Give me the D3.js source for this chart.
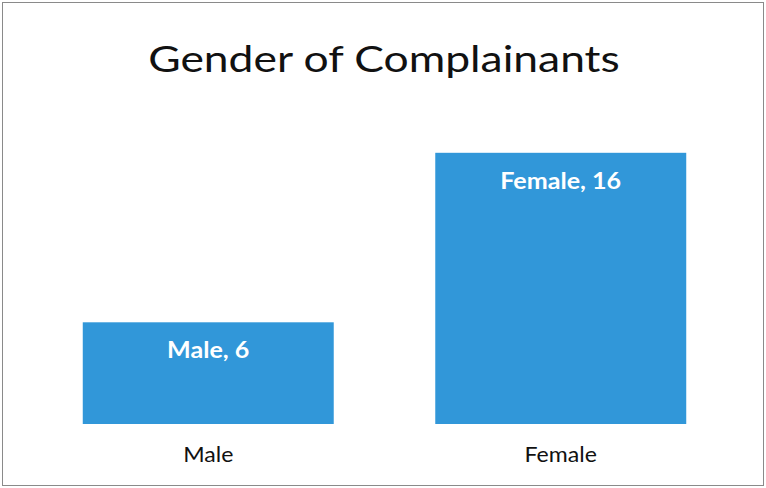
<!DOCTYPE html>
<html>
<head>
<meta charset="utf-8">
<script src="https://cdn.jsdelivr.net/npm/d3@7"></script>
<style>
  html, body { margin: 0; padding: 0; background: #fff; }
  svg { display: block; }
</style>
</head>
<body>
<div id="chart"></div>
<script>
// data
const categories = ["Male", "Female"]
const values = [6, 16]
const title = "Gender of Complainants"

const W = 766, H = 488
const font = "Lato, 'Open Sans', sans-serif"

const svg = d3.select("#chart").append("svg")
    .attr("width", W)
    .attr("height", H)

// elargir un texte (le scan est un peu etire en largeur)
function stretch(sel, k) {
    sel.each(function () {
        const w = this.getComputedTextLength()
        d3.select(this).attr("textLength", w * k).attr("lengthAdjust", "spacingAndGlyphs")
    })
}

// cadre
svg.append("rect")
    .attr("x", 2.5).attr("y", 2.5)
    .attr("width", W - 5).attr("height", H - 5)
    .attr("fill", "#fff")
    .attr("stroke", "#8a8a8a")
    .attr("stroke-width", 1)

// echelles
const x = d3.scaleBand()
    .domain(categories)
    .range([32, 737])
    .paddingInner(0.288)
    .paddingOuter(0.144)

const y = d3.scaleLinear()
    .domain([0, 20])
    .range([424, 85])

// titre
svg.append("text")
    .attr("x", 384)
    .attr("y", 72)
    .attr("text-anchor", "middle")
    .style("font-family", font)
    .style("font-size", "37px")
    .attr("fill", "#111")
    .text(title)
    .call(stretch, 1.2)

const data = categories.map((c, i) => ({ cat: c, val: values[i] }))

// barres
svg.append("g").selectAll("rect")
    .data(data)
    .join("rect")
    .attr("x", d => x(d.cat))
    .attr("y", d => y(d.val))
    .attr("width", x.bandwidth())
    .attr("height", d => y(0) - y(d.val))
    .attr("fill", "#3197d9")

// etiquettes de donnees
svg.append("g").selectAll("text")
    .data(data)
    .join("text")
    .attr("x", d => x(d.cat) + x.bandwidth() / 2)
    .attr("y", d => y(d.val) + 36)
    .attr("text-anchor", "middle")
    .style("font-family", font)
    .style("font-size", "22px")
    .style("font-weight", "bold")
    .attr("fill", "#fff")
    .text(d => d.cat + ", " + d.val)
    .call(stretch, 1.14)

// axe x (sans ligne)
const xAxis = svg.append("g")
    .attr("transform", "translate(0," + y(0) + ")")
    .call(d3.axisBottom(x).tickSize(0).tickPadding(23))
xAxis.select(".domain").remove()
xAxis.selectAll("text")
    .style("font-family", font)
    .style("font-size", "21px")
    .attr("fill", "#111")
    .call(stretch, 1.1)
</script>
</body>
</html>
